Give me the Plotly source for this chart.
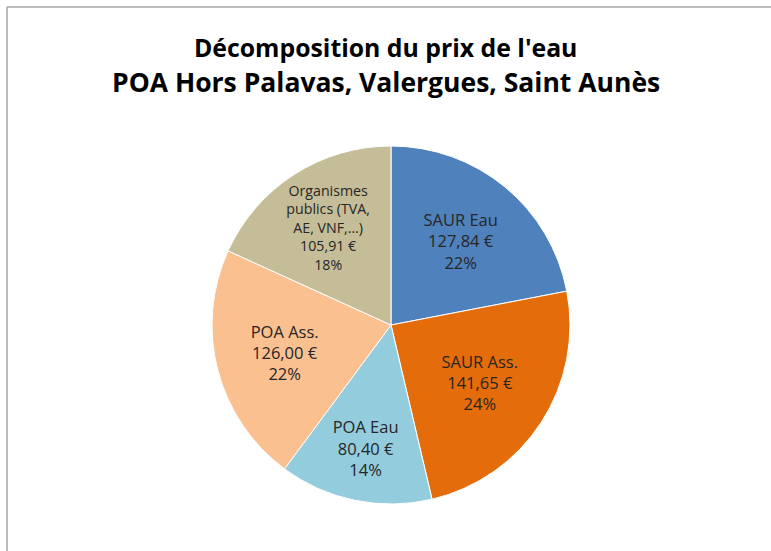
import plotly.graph_objects as go

labels = ["SAUR Eau", "SAUR Ass.", "POA Eau", "POA Ass.", "Organismes<br>publics (TVA,<br>AE, VNF,…)"]
values = [127.84, 141.65, 80.40, 126.00, 105.91]
colors = ["#4F81BD", "#E46C0A", "#93CDDD", "#FAC090", "#C4BD97"]
title_lines = ["Décomposition du prix de l'eau", "POA Hors Palavas, Valergues, Saint Aunès"]

W, H = 771, 551
cx, cy, r = 391, 325, 179

fig = go.Figure(go.Pie(
    labels=labels,
    values=values,
    sort=False,
    direction="clockwise",
    rotation=0,
    marker=dict(colors=colors, line=dict(color="white", width=1)),
    texttemplate="%{label}<br>%{value:.2f} €<br>%{percent:.0%}",
    textposition="inside",
    insidetextorientation="horizontal",
    textfont=dict(family="Open Sans", size=16.5, color="#262626"),
    hoverinfo="label+value+percent",
    domain=dict(x=[(cx - r) / W, (cx + r) / W], y=[1 - (cy + r) / H, 1 - (cy - r) / H]),
))

fig.add_annotation(text="<b>" + title_lines[0] + "</b>", x=385 / W, y=1 - 47 / H, xref="paper", yref="paper",
                   showarrow=False, font=dict(family="Open Sans", size=24.8, color="#000000"),
                   xanchor="center", yanchor="middle")
fig.add_annotation(text="<b>" + title_lines[1] + "</b>", x=386 / W, y=1 - 82 / H, xref="paper", yref="paper",
                   showarrow=False, font=dict(family="Open Sans", size=26.5, color="#000000"),
                   xanchor="center", yanchor="middle")

fig.add_shape(type="line", xref="paper", yref="paper", x0=7 / W, x1=7 / W, y0=-0.02, y1=1 - 7 / H,
              line=dict(color="#A6A6A6", width=1.5))
fig.add_shape(type="line", xref="paper", yref="paper", x0=7 / W, x1=1.02, y0=1 - 7 / H, y1=1 - 7 / H,
              line=dict(color="#A6A6A6", width=1.5))

fig.update_layout(
    width=W, height=H,
    margin=dict(l=0, r=0, t=0, b=0),
    showlegend=False,
    separators=", ",
    paper_bgcolor="white",
    plot_bgcolor="white",
)

fig.write_html("out.html", config={"displayModeBar": False},
               post_script="document.body.style.margin='0';document.body.style.overflow='hidden';")
